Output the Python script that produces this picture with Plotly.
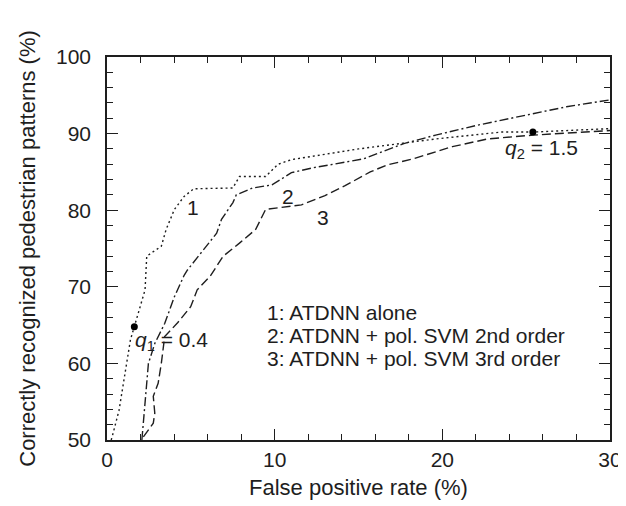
import plotly.graph_objects as go

# Curve 1: ATDNN alone (dotted)
c1_x = [0.25, 0.33, 0.72, 1.11, 1.40, 1.63, 2.27, 2.37, 3.24, 3.53, 4.02, 4.60, 5.18, 7.51, 7.90, 9.46, 10.2, 11.0, 12.2, 15.0, 19.6, 23.5, 25.4, 30.0]
c1_y = [50.0, 50.6, 53.9, 59.2, 63.1, 64.8, 69.6, 74.0, 75.3, 77.5, 80.1, 81.8, 82.8, 82.9, 84.4, 84.4, 86.0, 86.6, 87.0, 88.0, 89.3, 90.2, 90.2, 90.65]

# Curve 2: ATDNN + pol. SVM 2nd order (dash-dot)
c2_x = [2.08, 2.20, 2.37, 2.47, 2.85, 3.44, 4.02, 4.60, 4.80, 5.77, 6.54, 6.83, 7.51, 7.71, 8.68, 9.84, 11.0, 12.2, 15.3, 17.7, 19.6, 22.1, 25.4, 27.4, 30.0]
c2_y = [50.0, 53.0, 56.5, 60.0, 62.6, 65.2, 68.7, 71.5, 72.2, 74.8, 77.0, 78.8, 81.0, 82.0, 82.9, 83.3, 84.9, 85.5, 86.7, 88.7, 89.8, 91.1, 92.6, 93.5, 94.4]

# Curve 3: ATDNN + pol. SVM 3rd order (dashed)
c3_x = [2.17, 2.76, 2.85, 2.76, 3.05, 3.24, 3.44, 4.21, 4.99, 5.38, 6.16, 6.93, 7.90, 8.87, 9.46, 10.23, 11.6, 13.0, 14.2, 15.7, 16.7, 18.25, 20.6, 22.7, 25.4, 30.0]
c3_y = [50.4, 52.2, 53.5, 55.7, 57.4, 60.0, 63.5, 65.3, 67.4, 69.6, 71.4, 74.0, 75.7, 77.5, 80.1, 80.3, 80.7, 81.9, 83.2, 85.0, 85.9, 86.7, 88.3, 89.3, 89.8, 90.4]

# Operating points q1, q2
q_x = [1.63, 25.4]
q_y = [64.8, 90.2]
q_labels = ["<i>q</i><sub>1</sub> = 0.4", "<i>q</i><sub>2</sub> = 1.5"]
q_label_x = [1.55, 23.6]
q_label_y = [62.9, 88.0]

curve_labels = ["1", "2", "3"]
curve_label_x = [5.1, 10.8, 12.9]
curve_label_y = [80.3, 81.8, 79.1]

legend_lines = ["1: ATDNN alone", "2: ATDNN + pol. SVM 2nd order", "3: ATDNN + pol. SVM 3rd order"]
legend_x = 9.4
legend_y = [66.6, 63.7, 60.7]

x_ticks = [0, 10, 20, 30]
y_ticks = [50, 60, 70, 80, 90, 100]

INK = "#1e1e1e"
FONT = "Liberation Sans, Arial, sans-serif"

fig = go.Figure()
fig.add_trace(go.Scatter(x=c1_x, y=c1_y, mode="lines",
                         line=dict(color=INK, width=1.4, dash="2px,3px")))
fig.add_trace(go.Scatter(x=c2_x, y=c2_y, mode="lines",
                         line=dict(color=INK, width=1.4, dash="9px,3px,2px,3px")))
fig.add_trace(go.Scatter(x=c3_x, y=c3_y, mode="lines",
                         line=dict(color=INK, width=1.4, dash="9px,4px")))
fig.add_trace(go.Scatter(x=q_x, y=q_y, mode="markers",
                         marker=dict(color="black", size=7)))

for t, x, y in zip(curve_labels, curve_label_x, curve_label_y):
    fig.add_annotation(x=x, y=y, text=t, showarrow=False,
                       font=dict(size=21, color=INK, family=FONT))

for t, x, y in zip(q_labels, q_label_x, q_label_y):
    fig.add_annotation(x=x, y=y, text=t, showarrow=False, xanchor="left",
                       font=dict(size=21, color=INK, family=FONT))

for t, y in zip(legend_lines, legend_y):
    fig.add_annotation(x=legend_x, y=y, text=t, showarrow=False, xanchor="left",
                       font=dict(size=21, color=INK, family=FONT))

axis_common = dict(
    showgrid=False, zeroline=False, showline=True, linecolor=INK, linewidth=1.5,
    mirror="allticks", ticks="inside", ticklen=11, tickwidth=1.3, tickcolor=INK,
    tickfont=dict(size=21, color=INK, family=FONT),
)
minor_common = dict(dtick=2, ticks="inside", ticklen=6, tickcolor=INK, tickwidth=1.2)

fig.update_xaxes(range=[0, 30], tickvals=x_ticks, minor=minor_common,
                 title=dict(text="False positive rate (%)", font=dict(size=22, color=INK, family=FONT), standoff=10),
                 **axis_common)
fig.update_yaxes(range=[50, 100], tickvals=y_ticks, minor=minor_common, ticklabelstandoff=10,
                 title=dict(text="Correctly recognized pedestrian patterns (%)", font=dict(size=22, color=INK, family=FONT), standoff=14),
                 **axis_common)

fig.update_layout(
    width=626, height=506, showlegend=False,
    paper_bgcolor="white", plot_bgcolor="white",
    margin=dict(l=99, r=13, t=49, b=74),
    font=dict(family=FONT, color=INK),
)

fig.write_html("out.html")
